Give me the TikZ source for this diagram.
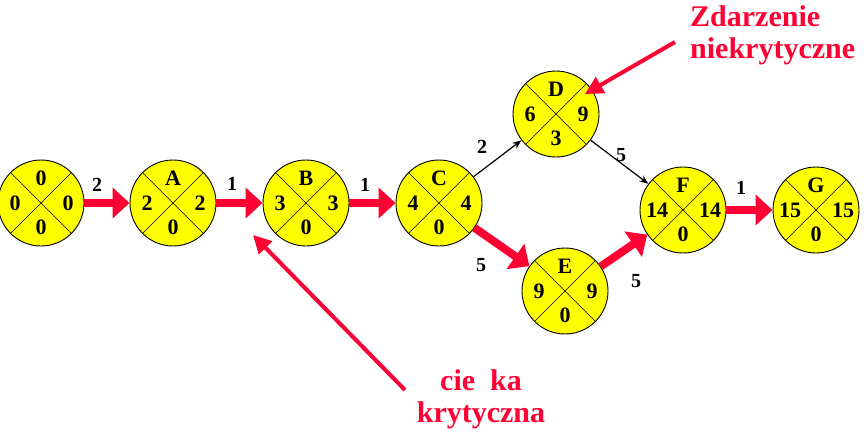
\documentclass[tikz,border=0pt]{standalone}
\usepackage{fontspec}
\setmainfont{Liberation Serif}
\usetikzlibrary{arrows.meta}
\definecolor{crit}{RGB}{255,0,51}
\definecolor{evfill}{RGB}{255,255,0}
\tikzset{
  ev/.style={circle,draw=black,line width=0.9pt,fill=evfill,minimum size=86pt,inner sep=0pt},
  num/.style={font=\fontsize{22}{24}\selectfont\bfseries,inner sep=0pt},
  elab/.style={font=\fontsize{20}{22}\selectfont\bfseries,inner sep=0pt},
  crita/.style={draw=crit,line width=8pt,-{Triangle[length=17pt,width=30pt]}},
  norma/.style={draw=black,line width=1.2pt,-{Stealth[length=9pt,width=7pt]}},
  calla/.style={draw=crit,line width=4pt,-{Triangle[length=18pt,width=18pt]}},
  note/.style={text=crit,font=\fontsize{30}{32}\selectfont\bfseries,inner sep=0pt}
}
\newcommand\evnode[6]{%
  \node[ev] (#1) at (#2) {};
  \draw[line width=0.6pt] (#1.45) -- (#1.225);
  \draw[line width=0.6pt] (#1.135) -- (#1.-45);
  \node[num] (#1-t) at ([yshift=25pt]#1.center) {#3};
  \node[num] (#1-l) at ([xshift=-26pt]#1.center) {#4};
  \node[num] (#1-r) at ([xshift=27pt]#1.center) {#5};
  \node[num] (#1-b) at ([yshift=-24pt]#1.center) {#6};
}
\begin{document}
\begin{tikzpicture}[x=1pt,y=-1pt]
\useasboundingbox (0,0) rectangle (864,442);
\evnode{S}{41,203}{0}{0}{0}{0}
\evnode{A}{173,203}{A}{2}{2}{0}
\evnode{B}{306,203}{B}{3}{3}{0}
\evnode{C}{439,203}{C}{4}{4}{0}
\evnode{D}{556,114}{D}{6}{9}{3}
\evnode{E}{565,291}{E}{9}{9}{0}
\evnode{F}{683,210}{F}{14}{14}{0}
\evnode{G}{816,210}{G}{15}{15}{0}
\draw[crita] (S) -- (A);
\draw[crita] (A) -- (B);
\draw[crita] (B) -- (C);
\draw[crita] (C) -- (E);
\draw[crita] (E) -- (F);
\draw[crita] (F) -- (G);
\draw[norma] (C) -- (D);
\draw[norma] (D) -- (F);
\node[elab] (l1) at (97,185) {2};
\node[elab] (l2) at (232,184) {1};
\node[elab] (l3) at (365,185) {1};
\node[elab] (l4) at (482,147) {2};
\node[elab] (l5) at (481,265) {5};
\node[elab] (l6) at (621,155) {5};
\node[elab] (l7) at (636,281) {5};
\node[elab] (l8) at (741,188) {1};
\node[note,align=left,anchor=north west] (zn) at (690,5) {Zdarzenie\\niekrytyczne};
\node[note,align=center] (sk) at (481,399) {cie\ \ ka\\krytyczna};
\coordinate (z0) at (675,42);
\coordinate (z1) at (585,94);
\coordinate (k0) at (405,390);
\coordinate (k1) at (253,235);
\draw[calla] (z0) -- (z1);
\draw[calla] (k0) -- (k1);
\end{tikzpicture}
\end{document}
